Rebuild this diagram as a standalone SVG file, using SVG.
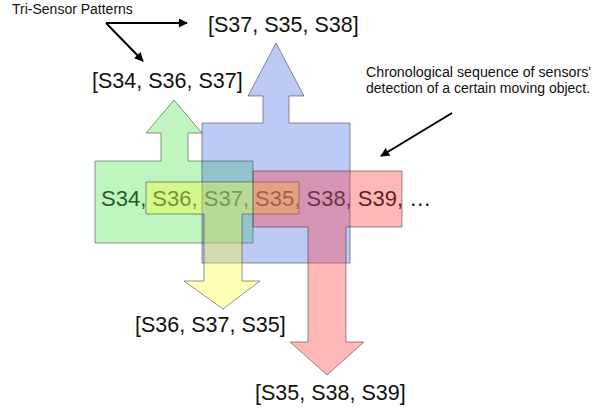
<svg xmlns="http://www.w3.org/2000/svg" width="592" height="408" viewBox="0 0 592 408">
<style>
text{font-family:"Liberation Sans",Arial,sans-serif;fill:#111}
.lbl{font-size:21.5px}
.seq{font-size:22px}
.note{font-size:14px}
.shape{stroke:#3a3a3a;stroke-opacity:0.55;stroke-width:1;fill-opacity:0.35}
.conn{stroke:#000;stroke-width:2;fill:none;marker-end:url(#ah)}
</style>
<defs>
<marker id="ah" viewBox="0 0 10 10" refX="9" refY="5" markerWidth="10" markerHeight="9" markerUnits="userSpaceOnUse" orient="auto">
<path d="M0,0 L10,5 L0,10 Z" fill="#000"/>
</marker>
</defs>
<rect width="592" height="408" fill="#fff"/>
<g id="sequence">
<text class="seq" x="101" y="206">S34, S36, S37, S35, S38, S39, …</text>
</g>
<g id="green-pattern">
<polygon class="shape" fill="rgb(72,226,72)" points="95,161 161,161 161,133 146,133 174,100 202,133 188,133 188,161 253,161 253,243 95,243"/>
</g>
<g id="blue-pattern">
<polygon class="shape" fill="rgb(64,104,226)" points="202,123 263,123 263,96 248,96 276,43 304,96 289,96 289,123 350,123 350,263 202,263"/>
</g>
<g id="yellow-pattern">
<polygon class="shape" fill="rgb(255,255,52)" points="146,182 299,182 299,214 242,214 242,281 260,281 223,309 184,281 204,281 204,214 146,214"/>
</g>
<g id="red-pattern">
<polygon class="shape" fill="rgb(255,52,52)" points="253,171 402,171 402,227 346,227 346,342 364,342 327,375 290,342 308,342 308,227 253,227"/>
</g>
<g id="label-s37-s35-s38"><text class="lbl" x="208" y="32">[S37, S35, S38]</text></g>
<g id="label-s34-s36-s37"><text class="lbl" x="92" y="88">[S34, S36, S37]</text></g>
<g id="label-s36-s37-s35"><text class="lbl" x="135" y="332">[S36, S37, S35]</text></g>
<g id="label-s35-s38-s39"><text class="lbl" x="255" y="400">[S35, S38, S39]</text></g>
<g id="title"><text class="note" x="12" y="14">Tri-Sensor Patterns</text></g>
<g id="note">
<text class="note" x="366" y="77" textLength="225" lengthAdjust="spacingAndGlyphs">Chronological sequence of sensors'</text>
<text class="note" x="366" y="93">detection of a certain moving object.</text>
</g>
<g id="connectors">
<line class="conn" x1="106" y1="23" x2="187" y2="23"/>
<line class="conn" x1="106" y1="23" x2="143" y2="61"/>
<line class="conn" x1="452" y1="113" x2="381" y2="156"/>
</g>
</svg>
